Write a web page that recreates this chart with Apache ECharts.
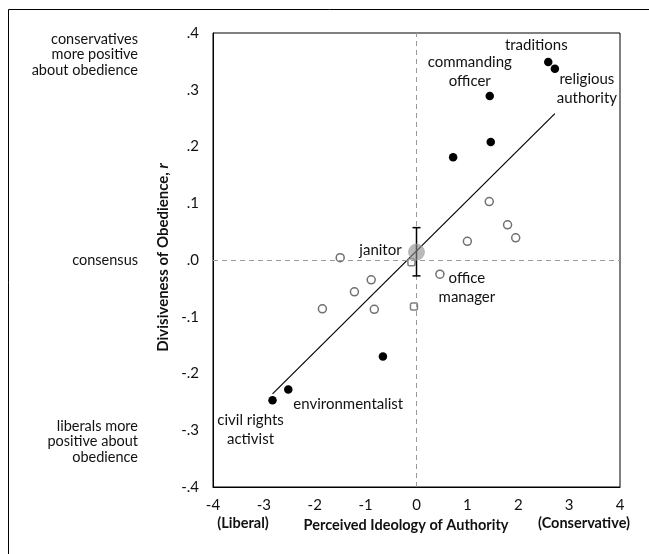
<!DOCTYPE html>
<html>
<head>
<meta charset="utf-8">
<script src="https://cdn.jsdelivr.net/npm/echarts@6/dist/echarts.min.js"></script>
<style>
html,body{margin:0;padding:0;background:#fff;}
#chart{width:649px;height:554px;}
</style>
</head>
<body>
<div id="chart"></div>
<script>
// ---- data ----
var filledNames = ['traditions', 'religious\nauthority', 'commanding\nofficer', '', '', '', 'environmentalist', 'civil rights\nactivist'];
var filledX = [2.59, 2.72, 1.44, 1.46, 0.72, -0.66, -2.52, -2.83];
var filledY = [0.349, 0.337, 0.289, 0.208, 0.181, -0.170, -0.228, -0.247];

var openNames = ['', '', '', '', '', 'office\nmanager', '', '', '', ''];
var openX = [1.43, 1.79, 1.95, 1.00, -1.50, 0.46, -0.89, -1.22, -1.85, -0.83];
var openY = [0.103, 0.062, 0.039, 0.033, 0.004, -0.025, -0.035, -0.056, -0.086, -0.087];

var squareX = [-0.10, -0.05];
var squareY = [-0.004, -0.082];

var janitorName = 'janitor';
var janitorX = [0];
var janitorY = [0.014];
var janitorErr = [0.057, -0.028]; // upper, lower

var fitX = [-2.83, 2.72];
var fitY = [-0.236, 0.258];

var xTickLabels = ['-4', '-3', '-2', '-1', '0', '1', '2', '3', '4'];
var yTickLabels = ['-.4', '-.3', '-.2', '-.1', '.0', '.1', '.2', '.3', '.4'];

var xAxisTitle = 'Perceived Ideology of Authority';
var xLeftNote = '(Liberal)';
var xRightNote = '(Conservative)';
var yAxisTitle = 'Divisiveness of Obedience, ';
var yAxisTitleItalic = 'r';
var sideNoteTexts = ['conservatives\nmore positive\nabout obedience', 'consensus', 'liberals more\npositive about\nobedience'];
var sideNoteAnchors = [0.362, 0.0, -0.32];

// label offsets (style)
var labelOffsets = {
  'traditions': [-12, -17],
  'religious\nauthority': [32, 20],
  'commanding\nofficer': [-20, -24],
  'environmentalist': [60, 15],
  'civil rights\nactivist': [-22, 29],
  'office\nmanager': [27, 13],
  'janitor': [-36, -2]
};

var FONT = 'Lato';
var TEXT = '#111';
var LABEL_SIZE = 15;

function makePoints(xs, ys, names) {
  return xs.map(function (x, i) {
    var item = {value: [x, ys[i]]};
    var n = names ? names[i] : '';
    if (n) {
      item.label = {
        show: true, position: 'inside', formatter: n,
        offset: labelOffsets[n], color: TEXT,
        fontFamily: FONT, fontSize: LABEL_SIZE, lineHeight: 19, align: 'center', verticalAlign: 'middle'
      };
    }
    return item;
  });
}

var chart = echarts.init(document.getElementById('chart'), null, {renderer: 'canvas'});

var gridLeft = 213, gridTop = 33, gridRight = 29, gridBottom = 67;

var option = {
  animation: false,
  backgroundColor: '#fff',
  grid: {left: gridLeft, top: gridTop, right: gridRight, bottom: gridBottom, show: true, borderColor: '#000', borderWidth: 1},
  xAxis: {
    type: 'value', min: -4, max: 4, interval: 1,
    axisLine: {show: true, onZero: false, lineStyle: {color: '#000'}},
    axisTick: {show: false},
    splitLine: {show: false},
    axisLabel: {
      color: TEXT, fontFamily: FONT, fontSize: 15, margin: 11,
      formatter: function (v) { return xTickLabels[Math.round(v + 4)]; }
    },
    name: xAxisTitle, nameLocation: 'middle', nameGap: 29,
    nameTextStyle: {color: TEXT, fontFamily: FONT, fontSize: 14.5, fontWeight: 'bold', padding: [0, 21, 0, 0]}
  },
  yAxis: {
    type: 'value', min: -0.4, max: 0.4, interval: 0.1,
    axisLine: {show: true, onZero: false, lineStyle: {color: '#000'}},
    axisTick: {show: false},
    splitLine: {show: false},
    axisLabel: {
      color: TEXT, fontFamily: FONT, fontSize: 15, margin: 14,
      formatter: function (v) { return yTickLabels[Math.round((v + 0.4) * 10)]; }
    },
    name: '{b|' + yAxisTitle + '}{i|' + yAxisTitleItalic + '}', nameLocation: 'middle', nameGap: 34,
    nameTextStyle: {
      padding: [0, 0, 0, 5],
      rich: {
        b: {color: TEXT, fontFamily: FONT, fontSize: 15, fontWeight: 'bold'},
        i: {color: TEXT, fontFamily: FONT, fontSize: 15, fontWeight: 'bold', fontStyle: 'italic'}
      }
    }
  },
  series: [
    {
      type: 'line', data: [],
      markLine: {
        silent: true, symbol: 'none', label: {show: false},
        lineStyle: {color: '#9a9a9a', type: [5, 4], width: 1},
        data: [{xAxis: 0}, {yAxis: 0}]
      }
    },
    {
      type: 'line', data: fitX.map(function (x, i) { return [x, fitY[i]]; }),
      showSymbol: false, symbol: 'none', lineStyle: {color: '#000', width: 1.2}, z: 3
    },
    {
      type: 'scatter', symbol: 'circle', symbolSize: 8,
      itemStyle: {color: '#fff', borderColor: '#707070', borderWidth: 1.5, opacity: 1},
      data: makePoints(openX, openY, openNames), z: 4
    },
    {
      type: 'scatter', symbol: 'roundRect', symbolSize: 7,
      itemStyle: {color: '#fff', borderColor: '#808080', borderWidth: 1.5, opacity: 1},
      data: makePoints(squareX, squareY, null), z: 4
    },
    {
      type: 'custom', z: 5,
      renderItem: function (params, api) {
        var x = api.value(0);
        var top = api.coord([x, api.value(1)]);
        var bot = api.coord([x, api.value(2)]);
        var w = 4;
        return {
          type: 'group',
          children: [
            {type: 'line', shape: {x1: top[0], y1: top[1], x2: bot[0], y2: bot[1]}, style: {stroke: '#000', lineWidth: 1.5}},
            {type: 'line', shape: {x1: top[0] - w, y1: top[1], x2: top[0] + w, y2: top[1]}, style: {stroke: '#000', lineWidth: 1.5}},
            {type: 'line', shape: {x1: bot[0] - w, y1: bot[1], x2: bot[0] + w, y2: bot[1]}, style: {stroke: '#000', lineWidth: 1.5}}
          ]
        };
      },
      data: [[janitorX[0], janitorErr[0], janitorErr[1]]]
    },
    {
      type: 'scatter', symbol: 'circle', symbolSize: 16, z: 6,
      itemStyle: {color: 'rgba(140,140,140,0.6)', borderColor: 'rgba(170,170,170,0.7)', borderWidth: 1, opacity: 1},
      data: makePoints(janitorX, janitorY, [janitorName])
    },
    {
      type: 'scatter', symbol: 'circle', symbolSize: 8.5, z: 7,
      itemStyle: {color: '#000', opacity: 1},
      data: makePoints(filledX, filledY, filledNames)
    }
  ],
  graphic: []
};

chart.setOption(option);

function place() {
  var g = [];
  g.push({type: 'rect', shape: {x: 8.5, y: 9.5, width: 800, height: 800}, style: {fill: null, stroke: '#000', lineWidth: 1}, silent: true, z: 0});
  sideNoteTexts.forEach(function (t, i) {
    var p = chart.convertToPixel({gridIndex: 0}, [-4, sideNoteAnchors[i]]);
    g.push({type: 'text', x: 138, y: p[1], style: {text: t, fill: TEXT, font: '14.5px ' + FONT, align: 'right', verticalAlign: 'middle', lineHeight: 15.5}, z: 10});
  });
  var yb = chart.convertToPixel({gridIndex: 0}, [0, -0.4])[1];
  g.push({type: 'text', x: 243, y: yb + 36, style: {text: xLeftNote, fill: TEXT, font: 'bold 14.5px ' + FONT, align: 'center', verticalAlign: 'middle'}, z: 10});
  g.push({type: 'text', x: 584, y: yb + 36, style: {text: xRightNote, fill: TEXT, font: 'bold 14.5px ' + FONT, align: 'center', verticalAlign: 'middle'}, z: 10});
  chart.setOption({graphic: g});
}
place();
</script>
</body>
</html>
